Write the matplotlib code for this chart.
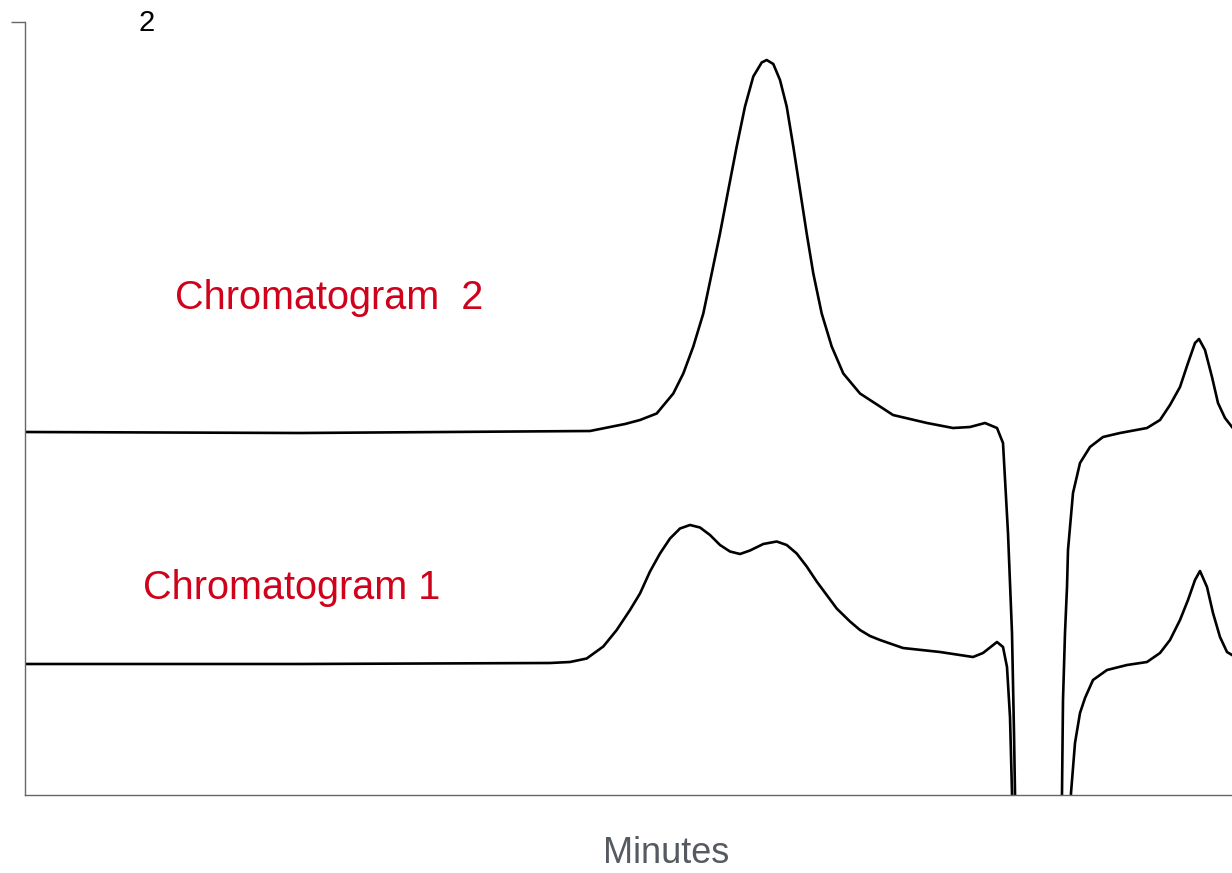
import numpy as np
import matplotlib
matplotlib.use("Agg")
import matplotlib.pyplot as plt

# chromatogram 2 (upper trace): time (min), signal
time_2 = [0.0, 5.5, 11.3, 11.7, 12.0, 12.3, 12.634, 12.966, 13.166, 13.366, 13.566,
          13.734, 13.9, 14.066, 14.234, 14.4, 14.566, 14.734, 14.834, 14.966, 15.1,
          15.234, 15.366, 15.5, 15.634, 15.766, 15.934, 16.134, 16.366, 16.7, 17.1,
          17.36, 18.04, 18.56, 18.9, 19.2, 19.44, 19.56, 19.66, 19.74, 19.78, 19.80,
          19.84, 20.68, 20.74, 20.76, 20.80, 20.84, 20.86, 20.96, 21.1, 21.3, 21.56,
          21.9, 22.44, 22.7, 22.9, 23.1, 23.26, 23.4, 23.48, 23.6, 23.74, 23.86,
          24.0, 24.14]
signal_2 = [0.726, 0.724, 0.728, 0.736, 0.742, 0.750, 0.763, 0.803, 0.843, 0.897, 0.963,
            1.043, 1.123, 1.210, 1.297, 1.377, 1.437, 1.465, 1.470, 1.462, 1.430,
            1.377, 1.297, 1.210, 1.123, 1.043, 0.963, 0.897, 0.843, 0.803, 0.777,
            0.760, 0.744, 0.734, 0.736, 0.744, 0.734, 0.704, 0.524, 0.324, 0.124, 0.004,
            -0.21, -0.21, 0.004, 0.190, 0.324, 0.416, 0.490, 0.604, 0.664, 0.696, 0.716,
            0.724, 0.734, 0.750, 0.780, 0.816, 0.864, 0.904, 0.912, 0.890, 0.836, 0.784,
            0.754, 0.736]

# chromatogram 1 (lower trace)
time_1 = [0.0, 5.5, 10.5, 10.9, 11.234, 11.566, 11.834, 12.1, 12.3, 12.5, 12.7, 12.9,
          13.1, 13.3, 13.5, 13.7, 13.9, 14.1, 14.3, 14.5, 14.766, 15.034, 15.234,
          15.434, 15.634, 15.834, 16.034, 16.234, 16.5, 16.7, 16.9, 17.1, 17.56, 18.3,
          18.96, 19.16, 19.44, 19.56, 19.64, 19.7, 19.74, 19.78, 20.86, 20.92, 21.0,
          21.1, 21.2, 21.36, 21.64, 22.04, 22.44, 22.7, 22.9, 23.1, 23.26, 23.4, 23.5,
          23.64, 23.76, 23.9, 24.04, 24.14]
signal_1 = [0.262, 0.262, 0.264, 0.266, 0.273, 0.297, 0.330, 0.370, 0.403, 0.447, 0.483,
            0.513, 0.533, 0.540, 0.535, 0.520, 0.500, 0.487, 0.482, 0.489, 0.502, 0.507,
            0.500, 0.483, 0.457, 0.427, 0.400, 0.373, 0.347, 0.330, 0.318, 0.310, 0.294,
            0.286, 0.276, 0.284, 0.306, 0.296, 0.256, 0.156, 0.004, -0.21, -0.21, 0.004,
            0.104, 0.164, 0.194, 0.230, 0.250, 0.260, 0.266, 0.284, 0.310, 0.350, 0.390,
            0.430, 0.448, 0.416, 0.364, 0.316, 0.286, 0.280]

fig = plt.figure(figsize=(12.32, 8.73), dpi=100)
ax = fig.add_axes([25 / 1232, 78 / 873, 1 - 25 / 1232, 773 / 873])

ax.plot(time_2, signal_2, color="black", lw=1.9, solid_joinstyle="round")
ax.plot(time_1, signal_1, color="black", lw=1.9, solid_joinstyle="round")

ax.set_xlim(0, 24.14)
ax.set_ylim(0, 1.546)
for side in ["top", "right"]:
    ax.spines[side].set_visible(False)
for side in ["left", "bottom"]:
    ax.spines[side].set_color("#666666")
    ax.spines[side].set_linewidth(1)
ax.set_xticks([])
ax.set_yticks([1.546])
ax.set_yticklabels([""])
ax.tick_params(axis="y", length=10, width=1, color="#666666", direction="out")

font = "Liberation Sans"
fig.text(147 / 1232, 1 - 23 / 873, "2", fontsize=21, family=font,
         ha="center", va="center", color="black")
fig.text(175 / 1232, 1 - 298 / 873, "Chromatogram  2", fontsize=28.5, family=font,
         ha="left", va="center", color="#d0021b")
fig.text(143 / 1232, 1 - 588 / 873, "Chromatogram 1", fontsize=28.5, family=font,
         ha="left", va="center", color="#d0021b")
fig.text(666 / 1232, 1 - 863 / 873, "Minutes", fontsize=26, family=font,
         ha="center", va="baseline", color="#555a60")

fig.savefig("out.png", dpi=100)
